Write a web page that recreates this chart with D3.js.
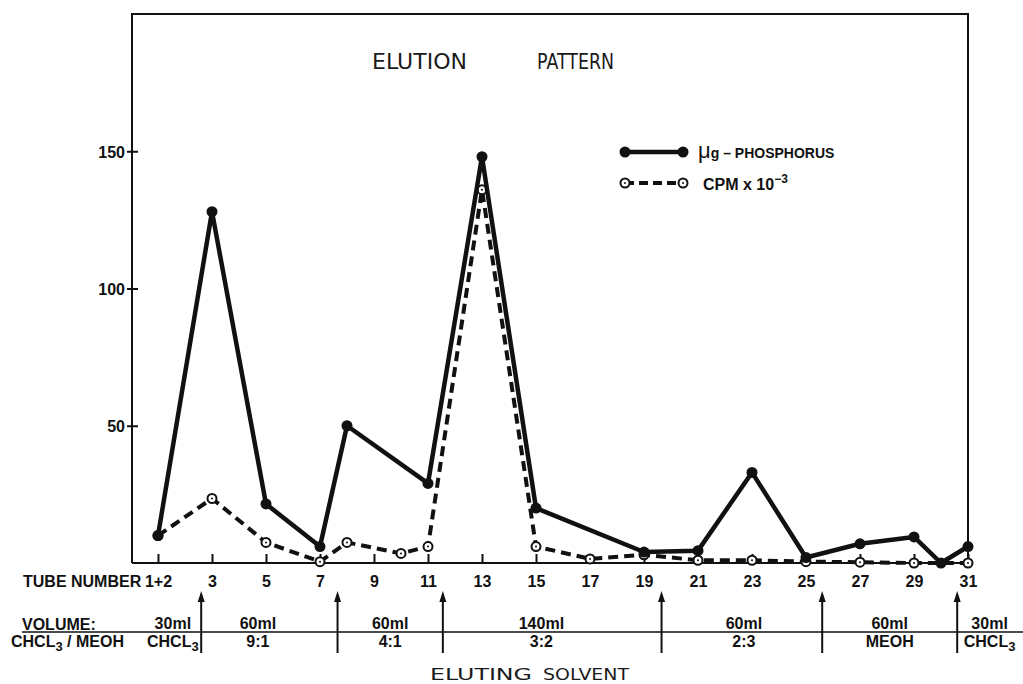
<!DOCTYPE html>
<html>
<head>
<meta charset="utf-8">
<script src="https://cdn.jsdelivr.net/npm/d3@7"></script>
<style>
  html, body { margin: 0; padding: 0; background: #fff; }
  text { font-family: "Liberation Sans", "DejaVu Sans", sans-serif; fill: #111; }
  .lbl { font-weight: bold; font-size: 16px; }
  .thin { font-family: "DejaVu Sans", sans-serif; font-weight: normal; font-size: 21px; fill: #1a1a1a; }
</style>
</head>
<body>
<div id="main"></div>
<script>
// data (tube number -> value)
const phosTubes = [1, 3, 5, 7, 8, 11, 13, 15, 19, 21, 23, 25, 27, 29, 30, 31];
const phosValues = [10, 128, 21.5, 6, 50, 29, 148, 20, 4, 4.5, 33, 2, 7, 9.5, 0, 6];
const cpmTubes = [1, 3, 5, 7, 8, 10, 11, 13, 15, 17, 19, 21, 23, 25, 27, 29, 31];
const cpmValues = [10, 23.5, 7.5, 0.5, 7.5, 3.5, 6, 136, 6, 1.5, 3, 1, 1, 0.5, 0.3, 0, 0];
const tubeTicks = [1, 3, 5, 7, 9, 11, 13, 15, 17, 19, 21, 23, 25, 27, 29, 31];
const yTicks = [50, 100, 150];
const solventChanges = [2.6, 7.65, 11.55, 19.65, 25.6, 30.6];
const volumeLabels = ['30ml', '60ml', '60ml', '140ml', '60ml', '60ml', '30ml'];
const solventLabels = ['CHCL3', '9:1', '4:1', '3:2', '2:3', 'MEOH', 'CHCL3'];
const segmentCenters = [1.55, 4.7, 9.6, 15.2, 22.7, 28.1, 31.8];

!(function () {
  'use strict';

  let svg, xScale, yScale;

  const canvas = {
    context: '#main',
    width: 1023,
    height: 684,
    plot: { left: 132, right: 968, top: 14, bottom: 563 }
  };

  function setCanvas() {
    svg = d3.select(canvas.context).append('svg')
      .attr('width', canvas.width)
      .attr('height', canvas.height);
  }

  function setScales() {
    xScale = d3.scaleLinear().domain([1, 31]).range([158, 968]);
    yScale = d3.scaleLinear().domain([0, 200]).range([canvas.plot.bottom, canvas.plot.top]);
  }

  function setFrame() {
    const p = canvas.plot;
    svg.append('path')
      .attr('d', `M${p.left},${p.bottom}V${p.top}H${p.right}V${p.bottom}H${p.left}`)
      .attr('fill', 'none').attr('stroke', '#111').attr('stroke-width', 2);
  }

  function setAxes() {
    const xAxis = svg.append('g')
      .attr('transform', `translate(0,${canvas.plot.bottom})`)
      .call(d3.axisBottom(xScale).tickValues(tubeTicks).tickSize(-9)
        .tickFormat(d => d === 1 ? '1+2' : d));
    xAxis.select('.domain').remove();
    xAxis.attr('font-family', null).attr('font-size', null);
    xAxis.selectAll('line').attr('stroke', '#111').attr('stroke-width', 2);
    xAxis.selectAll('text').attr('class', 'lbl').attr('y', 24).attr('dy', 0);

    svg.append('text').attr('class', 'lbl')
      .attr('x', 23).attr('y', canvas.plot.bottom + 24)
      .text('TUBE NUMBER');

    const yAxis = svg.append('g')
      .attr('transform', `translate(${canvas.plot.left},0)`)
      .call(d3.axisLeft(yScale).tickValues(yTicks).tickSize(5));
    yAxis.select('.domain').remove();
    yAxis.attr('font-family', null).attr('font-size', null);
    yAxis.selectAll('line').attr('x1', 6).attr('x2', -5).attr('stroke', '#111').attr('stroke-width', 2);
    yAxis.selectAll('text').attr('class', 'lbl').attr('x', -7).attr('dy', '0.36em');
  }

  function drawSeries(tubes, values, dashed) {
    const pts = tubes.map((t, i) => [xScale(t), yScale(values[i])]);
    svg.append('path')
      .attr('d', d3.line()(pts))
      .attr('fill', 'none').attr('stroke', '#111')
      .attr('stroke-width', dashed ? 4 : 4.5)
      .attr('stroke-linejoin', 'round')
      .attr('stroke-dasharray', dashed ? '10,6' : null);
    drawMarkers(pts, dashed);
  }

  function drawMarkers(pts, open) {
    const g = svg.append('g');
    g.selectAll('circle.m').data(pts).join('circle')
      .attr('cx', d => d[0]).attr('cy', d => d[1])
      .attr('r', open ? 4.5 : 5.5)
      .attr('fill', open ? '#fff' : '#111')
      .attr('stroke', '#111').attr('stroke-width', open ? 2 : 0);
    if (open) {
      g.selectAll('circle.c').data(pts).join('circle')
        .attr('cx', d => d[0]).attr('cy', d => d[1]).attr('r', 1).attr('fill', '#111');
    }
  }

  function setLegend() {
    const rows = [
      { y: 152, dashed: false },
      { y: 183, dashed: true }
    ];
    rows.forEach(r => {
      svg.append('line')
        .attr('x1', 625).attr('x2', 683).attr('y1', r.y).attr('y2', r.y)
        .attr('stroke', '#111').attr('stroke-width', r.dashed ? 4 : 4.5)
        .attr('stroke-dasharray', r.dashed ? '9,5' : null);
      drawMarkers([[625, r.y], [683, r.y]], r.dashed);
    });
    const t1 = svg.append('text').attr('class', 'lbl').attr('x', 698).attr('y', 158)
      .style('font-size', '14px');
    t1.append('tspan').text('μ').style('font-size', '22px').style('font-weight', 'normal');
    t1.append('tspan').text('g – PHOSPHORUS');
    const t2 = svg.append('text').attr('class', 'lbl').attr('x', 703).attr('y', 190)
      .style('font-size', '16px');
    t2.append('tspan').text('CPM x 10');
    t2.append('tspan').text('−3').attr('dy', -7).style('font-size', '12px');
  }

  function setTitles() {
    svg.append('text').attr('class', 'thin')
      .attr('x', 372).attr('y', 69).attr('textLength', 95).attr('lengthAdjust', 'spacingAndGlyphs')
      .text('ELUTION');
    svg.append('text').attr('class', 'thin')
      .attr('x', 537).attr('y', 69).attr('textLength', 77).attr('lengthAdjust', 'spacingAndGlyphs')
      .text('PATTERN');
    svg.append('text').attr('class', 'thin').style('font-size', '16px')
      .attr('x', 430).attr('y', 680).attr('textLength', 102).attr('lengthAdjust', 'spacingAndGlyphs')
      .text('ELUTING');
    svg.append('text').attr('class', 'thin').style('font-size', '16px')
      .attr('x', 543).attr('y', 680).attr('textLength', 86).attr('lengthAdjust', 'spacingAndGlyphs')
      .text('SOLVENT');
  }

  function withSub(sel, label) {
    if (label.endsWith('3') && label.startsWith('CHCL')) {
      sel.append('tspan').text('CHCL');
      sel.append('tspan').text('3').attr('dy', 4).style('font-size', '13px');
    } else {
      sel.text(label);
    }
  }

  function setSolventTable() {
    const lineY = 632;
    svg.append('line')
      .attr('x1', 22).attr('x2', 1023).attr('y1', lineY).attr('y2', lineY)
      .attr('stroke', '#111').attr('stroke-width', 1.5);

    svg.append('text').attr('class', 'lbl').attr('x', 22).attr('y', 630).text('VOLUME:');
    const hdr = svg.append('text').attr('class', 'lbl').attr('x', 11).attr('y', 647);
    hdr.append('tspan').text('CHCL');
    hdr.append('tspan').text('3').attr('dy', 4).style('font-size', '13px');
    hdr.append('tspan').text(' / MEOH').attr('dy', -4);

    volumeLabels.forEach((v, i) => {
      svg.append('text').attr('class', 'lbl')
        .attr('x', xScale(segmentCenters[i])).attr('y', 629)
        .attr('text-anchor', 'middle').text(v);
    });
    solventLabels.forEach((s, i) => {
      const t = svg.append('text').attr('class', 'lbl')
        .attr('x', xScale(segmentCenters[i])).attr('y', 647)
        .attr('text-anchor', 'middle');
      withSub(t, s);
    });

    solventChanges.forEach(c => {
      const x = xScale(c);
      svg.append('line')
        .attr('x1', x).attr('x2', x).attr('y1', 600).attr('y2', 653)
        .attr('stroke', '#111').attr('stroke-width', 2);
      svg.append('path')
        .attr('d', `M${x},591L${x - 3.5},602L${x + 3.5},602Z`)
        .attr('fill', '#111');
    });
  }

  // control
  setCanvas();
  setScales();
  setFrame();
  setAxes();
  drawSeries(cpmTubes, cpmValues, true);
  drawSeries(phosTubes, phosValues, false);
  setLegend();
  setTitles();
  setSolventTable();
}());
</script>
</body>
</html>
